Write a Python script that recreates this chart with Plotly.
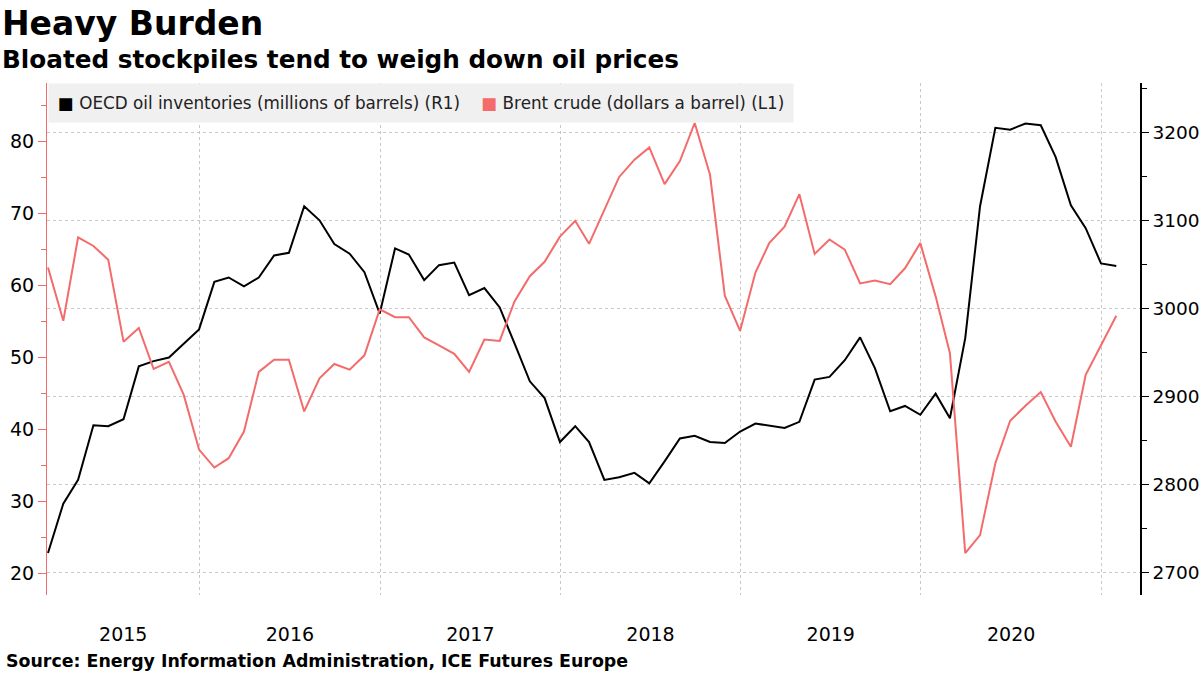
import pandas as pd
import plotly.graph_objects as go

# Month-end observations, Feb 2015 .. Jan 2021
dates = pd.date_range("2015-03-01", periods=72, freq="MS") - pd.Timedelta(days=1)

oecd_inventories = [
    2722, 2778, 2805, 2867, 2866, 2874, 2934, 2940, 2944, 2960, 2976, 3030, 3035,
    3025, 3035, 3060, 3063, 3116, 3100, 3073, 3062, 3041, 2994, 3068,
    3061, 3032, 3049, 3052, 3015, 3023, 3001, 2960, 2917, 2898, 2848, 2866,
    2848, 2805, 2808, 2813, 2801, 2826, 2852, 2855, 2848, 2847, 2860, 2869,
    2867, 2864, 2871, 2919, 2922, 2941, 2967, 2932, 2883, 2889, 2879, 2903,
    2875, 2966, 3116, 3205, 3203, 3210, 3208, 3172, 3117, 3091, 3051, 3048,
]

brent = [
    62.5, 55.1, 66.7, 65.5, 63.6, 52.2, 54.1, 48.4, 49.4, 44.8, 37.2, 34.7, 36.0,
    39.7, 48.0, 49.7, 49.7, 42.5, 47.1, 49.1, 48.3, 50.3, 56.7, 55.6,
    55.6, 52.8, 51.7, 50.5, 48.0, 52.5, 52.3, 57.8, 61.3, 63.3, 66.8, 69.0,
    65.8, 70.5, 75.1, 77.5, 79.2, 74.1, 77.3, 82.6, 75.4, 58.6, 53.7, 61.8,
    65.9, 68.2, 72.7, 64.4, 66.4, 65.0, 60.3, 60.7, 60.2, 62.4, 65.9, 58.5,
    50.6, 22.8, 25.3, 35.3, 41.2, 43.3, 45.2, 41.1, 37.6, 47.6, 51.7, 55.8,
]

year_labels = ["2015", "2016", "2017", "2018", "2019", "2020"]

BLACK = "#000000"
RED = "#f36b6b"
GRID = "#c8c8c8"
FONT = "DejaVu Sans"

x_start = pd.Timestamp("2015-02-26")
x_end = pd.Timestamp("2021-03-20")

# year labels centred on the visible part of each year
tick_pos = []
for y in year_labels:
    a = max(pd.Timestamp(f"{y}-01-01"), x_start)
    b = min(pd.Timestamp(f"{int(y) + 1}-01-01"), x_end)
    tick_pos.append(a + (b - a) / 2)

fig = go.Figure()
fig.add_trace(go.Scatter(
    x=dates, y=oecd_inventories, mode="lines", yaxis="y",
    line=dict(color=BLACK, width=2), name="OECD oil inventories (millions of barrels) (R1)",
    showlegend=False,
))
fig.add_trace(go.Scatter(
    x=dates, y=brent, mode="lines", yaxis="y2",
    line=dict(color=RED, width=2), name="Brent crude (dollars a barrel) (L1)",
    showlegend=False,
))

fig.update_layout(
    width=1200, height=675,
    margin=dict(l=47, r=60, t=83, b=80, autoexpand=False),
    paper_bgcolor="white", plot_bgcolor="white",
    font=dict(family=FONT, size=19, color="#000"),
    showlegend=False,
    xaxis=dict(
        type="date", range=[x_start, x_end], automargin=False,
        tickvals=tick_pos, ticktext=year_labels,
        ticks="outside", ticklen=22, tickcolor="rgba(0,0,0,0)",
        showgrid=False, showline=False, zeroline=False,
        tickfont=dict(size=19, color="#000"),
        minor=dict(tick0="2016-01-01", dtick="M12", showgrid=True,
                   gridcolor=GRID, griddash="3px,3px", gridwidth=1, ticks=""),
    ),
    yaxis=dict(  # right axis, OECD inventories
        side="right", range=[2674.2, 3256], dtick=100, tick0=0, automargin=False,
        showline=True, linecolor=BLACK, linewidth=1.5,
        ticks="outside", ticklen=7, tickcolor=BLACK,
        showgrid=True, gridcolor=GRID, griddash="3px,3px", gridwidth=1,
        zeroline=False,
        minor=dict(dtick=50, tick0=0, ticks="outside", ticklen=5, tickcolor=BLACK, showgrid=False),
        tickfont=dict(size=18.5, color="#000"),
    ),
    yaxis2=dict(  # left axis, Brent
        side="left", overlaying="y", range=[16.98, 88.16], dtick=10, tick0=0, automargin=False,
        showline=True, linecolor=RED, linewidth=1.2,
        ticks="outside", ticklen=8, tickcolor=RED,
        showgrid=False, zeroline=False,
        minor=dict(dtick=5, tick0=0, ticks="outside", ticklen=5, tickcolor=RED, showgrid=False),
        tickfont=dict(size=19, color="#000"),
    ),
)

legend_text = (
    "<span style='color:#000'>■</span> OECD oil inventories (millions of barrels) (R1)"
    "    <span style='color:%s'>■</span> Brent crude (dollars a barrel) (L1)" % RED
)

fig.add_annotation(
    text=legend_text, xref="paper", yref="paper", x=0.001, y=1,
    xanchor="left", yanchor="top", showarrow=False, align="left",
    bgcolor="#f0f0f0", borderpad=9,
    font=dict(family=FONT, size=16.8, color="#222"),
)

fig.add_annotation(
    text="<b>Heavy Burden</b>", xref="paper", yref="paper",
    x=-0.0433, y=(595 - 2) / 512, xanchor="left", yanchor="top", showarrow=False,
    font=dict(family=FONT, size=33, color="#000"),
)
fig.add_annotation(
    text="<b>Bloated stockpiles tend to weigh down oil prices</b>", xref="paper", yref="paper",
    x=-0.0433, y=(595 - 43) / 512, xanchor="left", yanchor="top", showarrow=False,
    font=dict(family=FONT, size=24.7, color="#000"),
)
fig.add_annotation(
    text="<b>Source: Energy Information Administration, ICE Futures Europe</b>",
    xref="paper", yref="paper",
    x=-0.0394, y=(595 - 649) / 512, xanchor="left", yanchor="top", showarrow=False,
    font=dict(family=FONT, size=17.4, color="#000"),
)

fig.write_html("out.html")
